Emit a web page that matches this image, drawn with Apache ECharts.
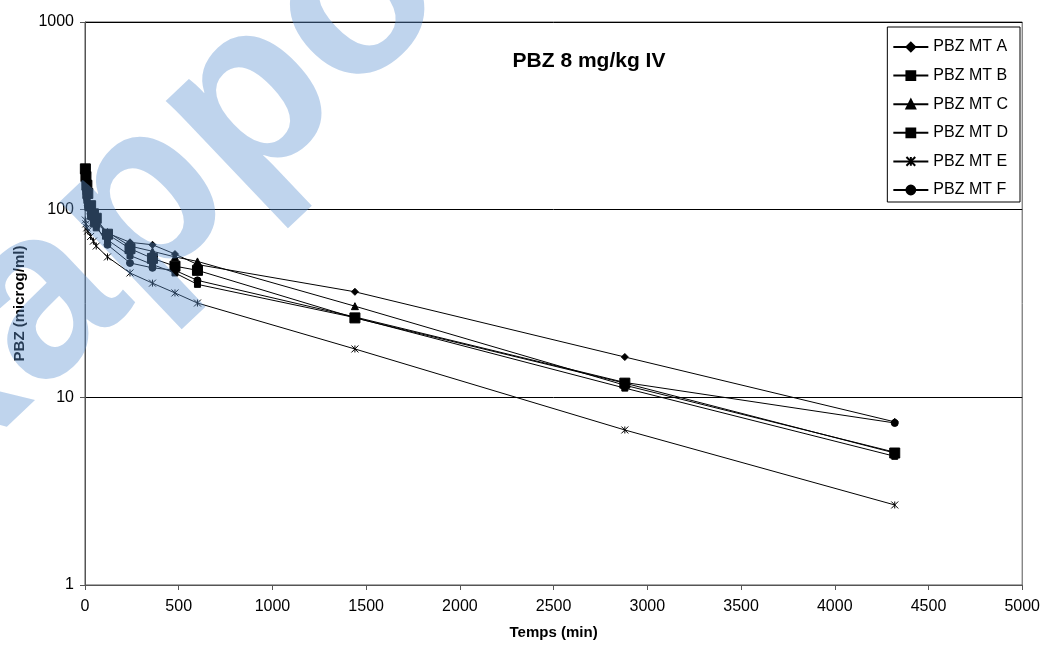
<!DOCTYPE html>
<html>
<head>
<meta charset="utf-8">
<script src="https://cdn.jsdelivr.net/npm/echarts@6/dist/echarts.min.js"></script>
<style>html,body{margin:0;padding:0;background:#fff}#c{width:1043px;height:651px}</style>
</head>
<body>
<div id="c"></div>
<script>
var times = [2, 5, 10, 15, 30, 45, 60, 120, 240, 360, 480, 600, 1440, 2880, 4320];
var seriesNames = ['PBZ MT A', 'PBZ MT B', 'PBZ MT C', 'PBZ MT D', 'PBZ MT E', 'PBZ MT F'];
var valuesA = [150, 135, 120, 110, 98, 90, 85, 75, 67, 65, 58, 51, 36.5, 16.4, 7.4];
var valuesB = [140, 125, 112, 103, 92, 84, 80, 69, 57, 51, 46, 40, 26.6, 11.2, 4.85];
var valuesC = [155, 138, 122, 112, 100, 92, 87, 76, 64, 60, 56, 53, 30.6, 11.6, 5.1];
var valuesD = [165, 150, 135, 122, 105, 95, 90, 74, 62, 55, 50, 47.5, 26.5, 11.9, 5.05];
var valuesE = [88, 84, 80, 77, 72, 68, 64, 56, 46, 40.6, 36, 31.8, 18.1, 6.7, 2.67];
var valuesF = [145, 128, 115, 105, 95, 88, 82, 65, 52, 49, 47.5, 42, 26.8, 12, 7.3];
var allValues = [valuesA, valuesB, valuesC, valuesD, valuesE, valuesF];
var yTickLabels = { 1: '1', 10: '10', 100: '100', 1000: '1000' };

var starPath = 'path://M0,0L10,10M10,0L0,10M5,0L5,10';
var symbols = ['diamond', 'rect', 'triangle', 'rect', starPath, 'circle'];
var sizes = [7, 6, 7, 10, 7, 7];

var FONT = '"Liberation Sans", Arial, sans-serif';

function pairs(vals) {
  return vals.map(function (v, i) { return [times[i], v]; });
}

var series = seriesNames.map(function (name, k) {
  return {
    name: name,
    type: 'line',
    data: pairs(allValues[k]),
    symbol: symbols[k],
    symbolSize: sizes[k],
    showAllSymbol: true,
    lineStyle: { color: '#000', width: 1 },
    itemStyle: { color: '#000', borderColor: '#000', borderWidth: 1 },
    emphasis: { disabled: true },
    animation: false
  };
});

var chart = echarts.init(document.getElementById('c'), null, { renderer: 'canvas' });
chart.setOption({
  animation: false,
  backgroundColor: '#fff',
  title: {
    text: 'PBZ 8 mg/kg IV',
    left: 584, top: 46, textAlign: 'center',
    textStyle: { fontFamily: FONT, fontSize: 21, fontWeight: 'bold', color: '#000' }
  },
  legend: {
    orient: 'vertical',
    right: 23, top: 27,
    itemWidth: 35, itemHeight: 11, itemGap: 12.6,
    padding: [12, 12, 4, 5],
    borderColor: '#000', borderWidth: 1,
    backgroundColor: '#fff',
    textStyle: { fontFamily: FONT, fontSize: 16, color: '#000' },
    data: seriesNames
  },
  grid: {
    left: 85, right: 16, top: 22, bottom: 66,
    show: true, borderColor: '#555', borderWidth: 1
  },
  xAxis: {
    type: 'value', min: 0, max: 5000, interval: 500,
    name: 'Temps (min)', nameLocation: 'middle', nameGap: 40,
    nameTextStyle: { fontFamily: FONT, fontSize: 15, fontWeight: 'bold', color: '#000' },
    axisLine: { show: true, lineStyle: { color: '#555' } },
    axisTick: { show: true, length: 5, lineStyle: { color: '#555' } },
    axisLabel: { fontFamily: FONT, fontSize: 16, color: '#000', margin: 14,
      formatter: function (v) { return String(v); } },
    splitLine: { show: false }
  },
  yAxis: {
    type: 'log', logBase: 10, min: 1, max: 1000,
    name: 'PBZ (microg/ml)', nameLocation: 'middle', nameGap: 58,
    nameTextStyle: { fontFamily: FONT, fontSize: 15, fontWeight: 'bold', color: '#000' },
    axisLine: { show: true, lineStyle: { color: '#555' } },
    axisTick: { show: true, length: 5, lineStyle: { color: '#555' } },
    axisLabel: { fontFamily: FONT, fontSize: 16, color: '#000', margin: 11,
      formatter: function (v) { return yTickLabels[Math.round(v)] || String(v); } },
    splitLine: { show: true, lineStyle: { color: '#000', width: 1 } }
  },
  graphic: [{
    type: 'text',
    x: -50, y: 555,
    rotation: 0.76,
    z: 100,
    silent: true,
    style: {
      text: 'Rapport',
      font: 'bold 240px "Liberation Sans", Arial, sans-serif',
      fill: 'rgba(95,148,210,0.40)',
      textVerticalAlign: 'bottom'
    }
  }],
  series: series
});
</script>
</body>
</html>
